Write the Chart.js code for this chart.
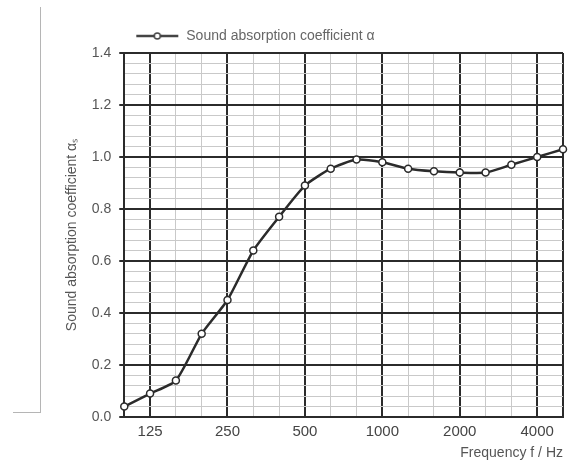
<!DOCTYPE html>
<html>
<head>
<meta charset="utf-8">
<script src="https://cdn.jsdelivr.net/npm/chart.js@4.4.1/dist/chart.umd.min.js"></script>
<style>
    html, body { margin: 0; padding: 0; background: #fff; }
    #wrap { position: relative; width: 582px; height: 463px; }
    #bracket {
        position: absolute; left: 13px; top: 7px; width: 27px; height: 405px;
        border-right: 1px solid #b5b5b5; border-bottom: 1px solid #b5b5b5;
    }
</style>
</head>
<body>
<div id="wrap">
    <div id="bracket"></div>
    <canvas id="chart-absorption"></canvas>
</div>
<script>
// third-octave bands, 100 Hz .. 5000 Hz
const bands = [
    '100', '125', '160', '200', '250', '315', '400', '500', '630',
    '800', '1000', '1250', '1600', '2000', '2500', '3150', '4000', '5000'
];
const octaveLabels = ['125', '250', '500', '1000', '2000', '4000'];
const alpha = [
    0.04, 0.09, 0.14, 0.32, 0.45, 0.64, 0.77, 0.89, 0.955,
    0.99, 0.98, 0.955, 0.945, 0.94, 0.94, 0.97, 1.0, 1.03
];

const ink = '#2b2b2b';
const faint = '#c9c9c9';
const fontFamily = '"Liberation Sans", Arial, sans-serif';

const isMajorY = (v) => Math.abs(v / 0.2 - Math.round(v / 0.2)) < 1e-6;
const isMajorX = (i) => i === 0 || i === bands.length - 1 || octaveLabels.includes(bands[i]);

// legend marker: line with an open circle
const legendMark = document.createElement('canvas');
legendMark.width = 50;
legendMark.height = 10;
const lc = legendMark.getContext('2d');
lc.strokeStyle = '#444';
lc.lineWidth = 2.5;
lc.beginPath(); lc.moveTo(7, 5); lc.lineTo(49, 5); lc.stroke();
lc.beginPath(); lc.arc(28, 5, 3, 0, Math.PI * 2);
lc.fillStyle = '#fff'; lc.fill();
lc.lineWidth = 1.5; lc.stroke();

const data = {
    labels: bands,
    datasets: [{
        label: 'Sound absorption coefficient α',
        data: alpha,
        borderColor: ink,
        borderWidth: 2.5,
        tension: 0.2,
        pointRadius: 3.5,
        pointBackgroundColor: '#fff',
        pointBorderColor: ink,
        pointBorderWidth: 1.5,
    }]
};

const config = {
    type: 'line',
    data: data,
    options: {
        responsive: true,
        maintainAspectRatio: false,
        animation: false,
        layout: { padding: { top: 24, left: 53, right: 19, bottom: 0 } },
        plugins: {
            tooltip: { enabled: false },
            legend: {
                position: 'top',
                align: 'start',
                fullSize: false,
                labels: {
                    usePointStyle: true,
                    pointStyle: legendMark,
                    pointStyleWidth: 50,
                    padding: 5,
                    color: '#666',
                    font: { family: fontFamily, size: 14 }
                }
            }
        },
        scales: {
            x: {
                offset: false,
                border: { color: ink, width: 2 },
                grid: {
                    drawTicks: false,
                    color: (ctx) => isMajorX(ctx.index) ? ink : faint,
                    lineWidth: (ctx) => isMajorX(ctx.index) ? 2 : 1
                },
                ticks: {
                    autoSkip: false,
                    maxRotation: 0,
                    padding: 7,
                    color: '#444',
                    font: { family: fontFamily, size: 15, lineHeight: 1 },
                    callback: function (value, index) {
                        const lbl = bands[index];
                        return octaveLabels.includes(lbl) ? lbl : '';
                    }
                },
                title: {
                    display: true,
                    text: 'Frequency f / Hz',
                    align: 'end',
                    color: '#555',
                    padding: { top: 0, bottom: 3 },
                    font: { family: fontFamily, size: 14, lineHeight: 1 }
                }
            },
            y: {
                min: 0,
                max: 1.4,
                border: { color: ink, width: 2 },
                grid: {
                    tickLength: 5,
                    color: (ctx) => isMajorY(ctx.tick.value) ? ink : faint,
                    lineWidth: (ctx) => isMajorY(ctx.tick.value) ? 2 : 1,
                    tickColor: (ctx) => isMajorY(ctx.tick.value) ? ink : 'rgba(0,0,0,0)'
                },
                ticks: {
                    stepSize: 0.04,
                    autoSkip: false,
                    padding: 8,
                    color: '#555',
                    font: { family: fontFamily, size: 14 },
                    callback: (value) => isMajorY(value) ? value.toFixed(1) : ''
                },
                title: {
                    display: true,
                    text: 'Sound absorption coefficient αₛ',
                    color: '#555',
                    padding: { top: 11, bottom: 3 },
                    font: { family: fontFamily, size: 14 }
                }
            }
        }
    }
};

const absorptionChart = new Chart(document.getElementById('chart-absorption'), config);
</script>
</body>
</html>
